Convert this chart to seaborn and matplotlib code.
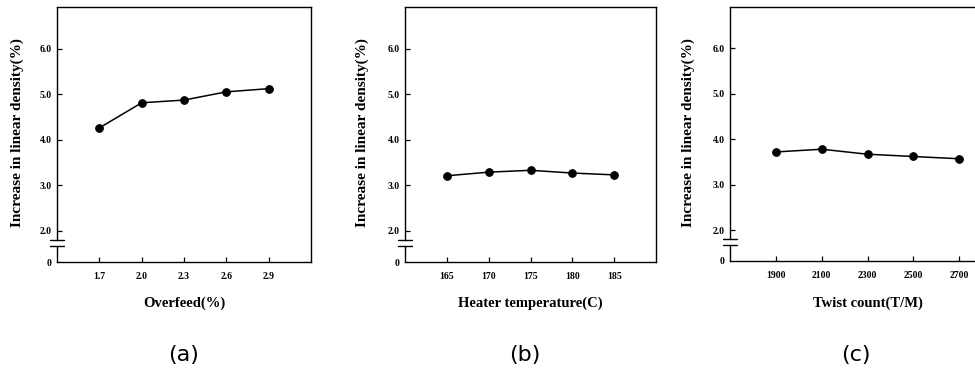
import matplotlib
matplotlib.use("Agg")
import matplotlib.pyplot as plt
import matplotlib.transforms as mtransforms
import seaborn as sns
import pandas as pd

# ---- data ----
overfeed = [1.7, 2.0, 2.3, 2.6, 2.9]
overfeed_inc = [4.26, 4.81, 4.87, 5.05, 5.12]

heater_temp = [165, 170, 175, 180, 185]
heater_inc = [3.21, 3.29, 3.33, 3.27, 3.23]

twist = [1900, 2100, 2300, 2500, 2700]
twist_inc = [3.72, 3.78, 3.67, 3.62, 3.57]

x_labels = ["Overfeed(%)", "Heater temperature(C)", "Twist count(T/M)"]
captions = ["(a)", "(b)", "(c)"]
y_label = "Increase in linear density(%)"
y_ticks = [2.0, 3.0, 4.0, 5.0, 6.0]
x_tick_labels = [["1.7", "2.0", "2.3", "2.6", "2.9"],
                 ["165", "170", "175", "180", "185"],
                 ["1900", "2100", "2300", "2500", "2700"]]

sns.set_style("ticks")
plt.rcParams["font.family"] = ["Liberation Serif", "DejaVu Serif"]
plt.rcParams.update({"text.color": "black", "axes.labelcolor": "black",
                     "xtick.color": "black", "ytick.color": "black",
                     "axes.edgecolor": "black"})

W, H = 975, 377
fig = plt.figure(figsize=(W / 100, H / 100), dpi=100)

# pixel boxes: left, right, top, bottom
boxes = [(57, 311, 7, 262), (405, 656, 7, 262), (730, 1005, 7, 261)]
xlims = [(1.4, 3.2), (160, 190), (1700, 2900)]
ylim = (1.32, 6.91)
ylab_x = [-0.157, -0.171, -0.153]
cap_x = [184, 525, 856]

datasets = [(overfeed, overfeed_inc), (heater_temp, heater_inc), (twist, twist_inc)]

for i, (xs, ys) in enumerate(datasets):
    l, r, t, b = boxes[i]
    ax = fig.add_axes([l / W, (H - b) / H, (r - l) / W, (b - t) / H])
    df = pd.DataFrame({"x": xs, "y": ys})
    sns.lineplot(data=df, x="x", y="y", ax=ax, color="black", lw=1.1,
                 marker="o", markersize=5.5, markeredgecolor="black",
                 markerfacecolor="black")
    ax.set_xlim(*xlims[i])
    ax.set_ylim(*ylim)
    ax.set_xticks(xs)
    ax.set_xticklabels(x_tick_labels[i])
    ax.set_yticks([ylim[0]] + y_ticks)
    ax.set_yticklabels(["0"] + [f"{v:.1f}" for v in y_ticks])
    ax.yaxis.get_major_ticks()[0].tick1line.set_visible(False)
    ax.tick_params(direction="in", length=3.5, width=0.9, labelsize=7, pad=4)
    ax.tick_params(axis="x", pad=7)
    for lab in ax.get_xticklabels() + ax.get_yticklabels():
        lab.set_fontweight("bold")
    for s in ax.spines.values():
        s.set_linewidth(1.0)
    ax.spines["left"].set_visible(False)

    # broken left spine with break marks
    trans = mtransforms.blended_transform_factory(ax.transAxes, ax.transData)
    b_lo, b_hi = 1.67, 1.80
    ax.plot([0, 0], [ylim[0], b_lo], transform=trans, color="black", lw=1.0, clip_on=False)
    ax.plot([0, 0], [b_hi, ylim[1]], transform=trans, color="black", lw=1.0, clip_on=False)
    dx = 7 / (r - l)
    for yb in (b_lo, b_hi):
        ax.plot([-dx, dx], [yb, yb], transform=trans, color="black", lw=1.0, clip_on=False)

    ax.set_xlabel(x_labels[i], fontsize=10.5, fontweight="bold")
    ax.xaxis.label.set_va("center")
    ax.xaxis.set_label_coords(0.5, (b - 303) / (b - t))
    ax.set_ylabel(y_label, fontsize=11, fontweight="bold")
    ax.yaxis.label.set_va("center")
    ax.yaxis.set_label_coords(ylab_x[i], (b - 133) / (b - t))

    fig.text(cap_x[i] / W, (H - 355) / H, captions[i], ha="center", va="center",
             fontsize=16, family="DejaVu Sans", color="black")

fig.savefig("out.png", dpi=100)
